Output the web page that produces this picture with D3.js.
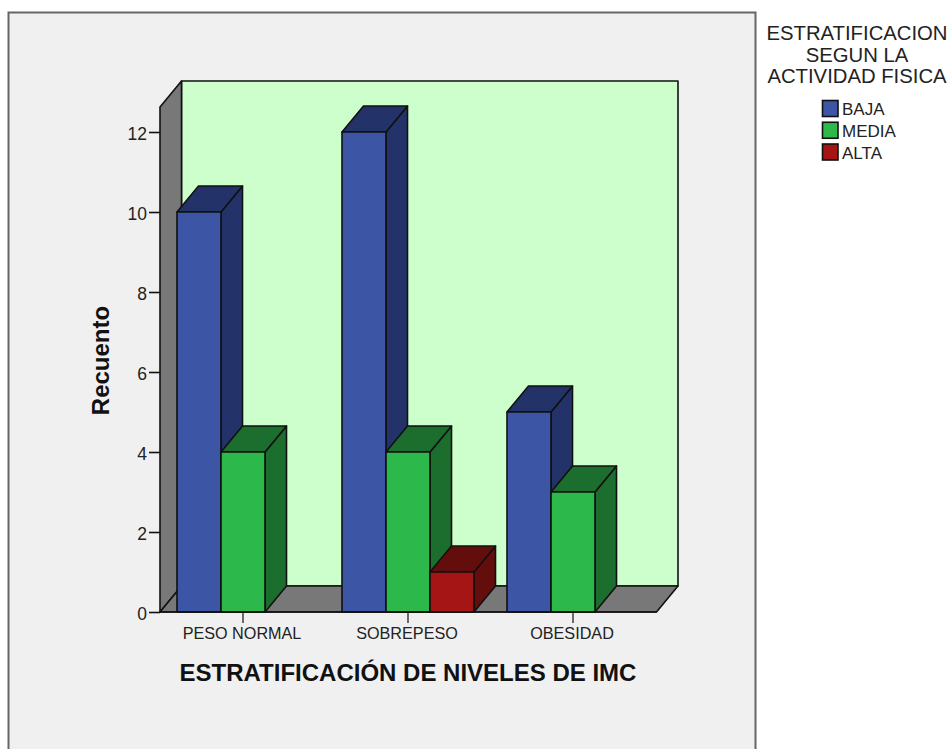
<!DOCTYPE html>
<html>
<head>
<meta charset="utf-8">
<script src="https://d3js.org/d3.v7.min.js"></script>
<style>
  html, body { margin: 0; padding: 0; background: #fff; }
  svg { display: block; font-family: "Liberation Sans", Arial, sans-serif; }
</style>
</head>
<body>
<svg id="chart" width="952" height="749"></svg>
<script>
// Counts of physical-activity level within each BMI group
const categories = ["PESO NORMAL", "SOBREPESO", "OBESIDAD"];
const seriesNames = ["BAJA", "MEDIA", "ALTA"];
const baja = [10, 12, 5];
const media = [4, 4, 3];
const alta = [0, 1, 0];
const yTicks = [0, 2, 4, 6, 8, 10, 12];
const frontColors = ["#3c55a5", "#2db84b", "#a51515"];
const sideColors = ["#23336a", "#1c6e2e", "#640d0d"];
const legendTitle = ["ESTRATIFICACION", "SEGUN LA", "ACTIVIDAD FISICA"];
const xTitle = "ESTRATIFICACIÓN DE NIVELES DE IMC";
const yTitle = "Recuento";

const svg = d3.select("#chart");
const seriesValues = [baja, media, alta];

// Oblique projection offset of the chart box
const depthX = 21.5, depthY = -26;
const x0 = 160, x1 = 656.5, yBase = 612;

const y = d3.scaleLinear().domain([0, 12]).range([yBase, 132]);
const yTop = y.invert(107);
const xCat = d3.scaleBand().domain(categories).range([160.5, 655.5]);
const xSeries = d3.scaleBand().domain(seriesNames).range([0, 132]);
const catOffset = (xCat.bandwidth() - xSeries.range()[1]) / 2;

// Panel behind the plot; its lower edge runs off the page
svg.append("rect").attr("x", 8.5).attr("y", 12.5).attr("width", 747).attr("height", 760)
  .attr("fill", "#f0f0f0").attr("stroke", "#666").attr("stroke-width", 2);

const poly = (pts, fill) => svg.append("polygon")
  .attr("points", pts.map(p => p.join(",")).join(" "))
  .attr("fill", fill).attr("stroke", "#111").attr("stroke-width", 1.6)
  .attr("stroke-linejoin", "round");

const wallTop = y(yTop);
// Back wall, left wall and floor
poly([[x0 + depthX, wallTop + depthY], [x1 + depthX, wallTop + depthY],
      [x1 + depthX, yBase + depthY], [x0 + depthX, yBase + depthY]], "#ccffcc");
poly([[x0, wallTop], [x0 + depthX, wallTop + depthY],
      [x0 + depthX, yBase + depthY], [x0, yBase]], "#787878");
poly([[x0, yBase], [x0 + depthX, yBase + depthY],
      [x1 + depthX, yBase + depthY], [x1, yBase]], "#787878");

// Bars, painted left to right so each front face covers its neighbour's side
categories.forEach((cat, c) => {
  seriesNames.forEach((name, s) => {
    const v = seriesValues[s][c];
    if (!v) return;
    const left = xCat(cat) + catOffset + xSeries(name);
    const right = left + xSeries.bandwidth();
    const top = y(v);
    poly([[right, top], [right + depthX, top + depthY],
          [right + depthX, yBase + depthY], [right, yBase]], sideColors[s]);
    poly([[left, top], [left + depthX, top + depthY],
          [right + depthX, top + depthY], [right, top]], sideColors[s]);
    poly([[left, top], [right, top], [right, yBase], [left, yBase]], frontColors[s]);
  });
});

// Value axis
const yAxis = d3.axisLeft(y).tickValues(yTicks).tickSize(11).tickPadding(2).tickFormat(d3.format("d"));
const gy = svg.append("g").attr("transform", `translate(${x0},0)`).call(yAxis);
gy.select(".domain").remove();
gy.selectAll("line").attr("stroke", "#111").attr("stroke-width", 1.6);
gy.selectAll("text").attr("fill", "#222").attr("dy", "0.42em").style("font-size", "17.5px").style("font-family", "inherit");

// Category axis
const xAxis = d3.axisBottom(xCat).tickSize(11).tickPadding(4.5);
const gx = svg.append("g").attr("transform", `translate(0,${yBase})`).call(xAxis);
gx.select(".domain").remove();
gx.selectAll("line").attr("stroke", "#111").attr("stroke-width", 1.2);
gx.selectAll("text").attr("fill", "#222").attr("dx", -1).style("font-size", "16.2px").style("font-family", "inherit");
svg.append("line").attr("x1", x0).attr("x2", x1).attr("y1", yBase).attr("y2", yBase)
  .attr("stroke", "#111").attr("stroke-width", 1.6);

// Axis titles
svg.append("text").attr("x", 408).attr("y", 681).attr("text-anchor", "middle")
  .attr("font-weight", "bold").attr("font-size", 24).attr("fill", "#111").text(xTitle);
svg.append("text").attr("transform", "translate(109,360.5) rotate(-90)").attr("text-anchor", "middle")
  .attr("font-weight", "bold").attr("font-size", 24).attr("fill", "#111").text(yTitle);

// Legend
svg.append("g").selectAll("text").data(legendTitle).join("text")
  .attr("x", 857).attr("y", (d, i) => 40 + i * 21.5).attr("text-anchor", "middle")
  .attr("font-size", 20.3).attr("fill", "#222").text(d => d);
const legendY = d3.scalePoint().domain(seriesNames).range([108.5, 152]);
const legendRow = svg.append("g").selectAll("g").data(seriesNames).join("g")
  .attr("transform", d => `translate(822,${legendY(d)})`);
legendRow.append("rect").attr("x", 0.5).attr("y", -8).attr("width", 15.5).attr("height", 16)
  .attr("fill", (d, i) => frontColors[i]).attr("stroke", "#111").attr("stroke-width", 1.6);
legendRow.append("text").attr("x", 20).attr("y", 6.5).attr("font-size", 17).attr("fill", "#222").text(d => d);
</script>
</body>
</html>
